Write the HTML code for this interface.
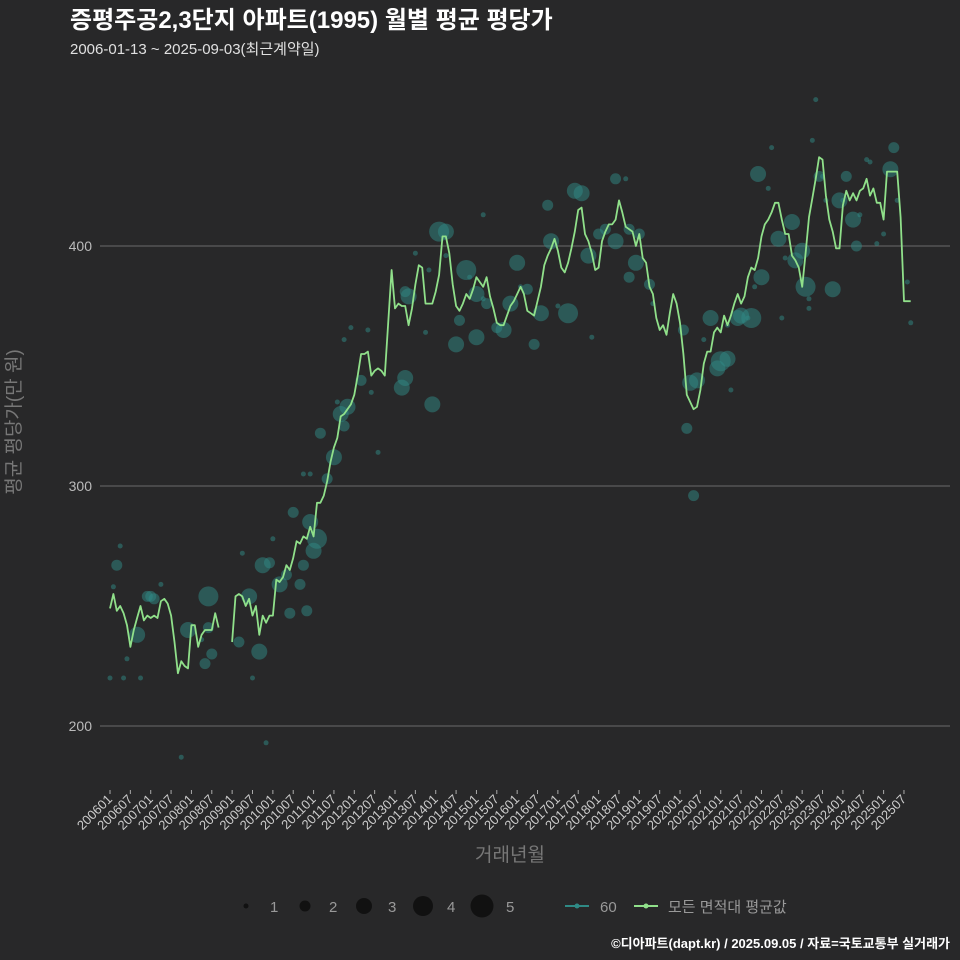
<!DOCTYPE html>
<html><head><meta charset="utf-8"><style>
body{margin:0;background:#282829;}
svg{display:block;font-family:"Liberation Sans","Noto Sans CJK KR",sans-serif;}
</style></head><body>
<svg id="chart" width="960" height="960" viewBox="0 0 960 960" xmlns="http://www.w3.org/2000/svg">
<rect width="960" height="960" fill="#282829"/>
<text x="70" y="28" fill="#ffffff" font-size="24" font-weight="bold">증평주공2,3단지 아파트(1995) 월별 평균 평당가</text>
<text x="70" y="54" fill="#e0e0e0" font-size="15">2006-01-13 ~ 2025-09-03(최근계약일)</text>
<g id="grid"></g>
<g id="bubbles"></g>
<g id="line"></g>
<g id="xaxis"></g>
<g id="yaxis"></g>
<text transform="translate(20,422) rotate(-90)" text-anchor="middle" fill="#777" font-size="19">평균 평당가(만 원)</text>
<text x="510" y="861" text-anchor="middle" fill="#777" font-size="19">거래년월</text>
<g>
<circle cx="246" cy="906" r="2.5" fill="#111"/>
<text x="270" y="912" fill="#999" font-size="15">1</text>
<circle cx="305" cy="906" r="5.5" fill="#111"/>
<text x="329" y="912" fill="#999" font-size="15">2</text>
<circle cx="364" cy="906" r="8" fill="#111"/>
<text x="388" y="912" fill="#999" font-size="15">3</text>
<circle cx="423" cy="906" r="10" fill="#111"/>
<text x="447" y="912" fill="#999" font-size="15">4</text>
<circle cx="482" cy="906" r="11.5" fill="#111"/>
<text x="506" y="912" fill="#999" font-size="15">5</text>
<line x1="565" y1="906" x2="589" y2="906" stroke="#2f8a85" stroke-width="2"/>
<circle cx="577" cy="906" r="2.5" fill="#2f8a85"/>
<text x="600" y="912" fill="#999" font-size="15">60</text>
<line x1="634" y1="906" x2="658" y2="906" stroke="#90e08a" stroke-width="2"/>
<circle cx="646" cy="906" r="2.5" fill="#90e08a"/>
<text x="668" y="912" fill="#999" font-size="15">모든 면적대 평균값</text>
</g>
<text x="950" y="948" text-anchor="end" fill="#ffffff" font-size="13" font-weight="bold">©디아파트(dapt.kr) / 2025.09.05 / 자료=국토교통부 실거래가</text>
</svg>
<script>
const yTicks=[200,300,400];
const xTickLabels=["200601","200607","200701","200707","200801","200807","200901","200907","201001","201007","201101","201107","201201","201207","201301","201307","201401","201407","201501","201507","201601","201607","201701","201707","201801","201807","201901","201907","202001","202007","202101","202107","202201","202207","202301","202307","202401","202407","202501","202507"];
// monthly average, index 0 = 2006-01
const avgValues=[249,255,248,250,247,242,233,240,245,250,244,246,245,246,245,252,253,251,246,235,222,227,225,224,242,242,233,238,240,240,240,247,241,null,null,null,
235,254,255,254,250,253,246,250,238,246,243,246,246,261,260,262,267,265,270,277,276,279,278,283,279,293,293,296,302,310,316,320,329,330,332,334,338,346,355,355,356,346,348,349,348,346,368,390,374,376,375,375,367,374,384,392,391,376,376,376,381,388,404,404,397,384,375,373,376,380,378,382,387,385,383,387,379,374,368,367,367,371,375,377,380,383,380,373,372,371,377,383,392,396,399,403,398,391,389,393,399,406,415,416,405,402,397,390,391,402,406,409,409,411,419,414,408,407,406,400,405,395,393,383,380,370,365,367,363,372,380,376,368,355,338,335,332,333,340,351,356,356,364,366,364,371,367,371,376,380,376,379,387,391,390,395,404,409,411,414,418,418,411,405,405,396,394,391,383,397,412,420,428,437,436,421,411,406,399,399,417,423,419,422,419,423,424,428,421,424,418,418,411,431,431,431,431,412,377,377,377];
const dealMonths=[
0,1,2,3,4,5,8,11,12,13,
15,9,21,23,29,28,29,30,27,38,
39,41,42,44,46,45,47,48,50,52,
53,54,56,57,58,57,59,60,59,61,
62,64,66,68,70,69,67,69,71,74,
76,79,77,86,87,87,88,90,93,94,
95,97,99,99,102,103,105,106,108,110,
108,110,111,114,116,118,120,121,123,125,
127,129,130,132,135,137,139,141,142,144,
146,149,149,153,152,156,153,155,159,160,
169,170,171,172,173,175,177,179,180,182,
182,183,185,186,188,189,190,192,191,194,
195,197,198,199,201,202,204,206,205,206,
207,208,209,210,211,213,215,216,217,219,
220,221,223,224,226,228,230,231,232,235,
236];
const dealValues=[
220,258,267,275,220,228,238,254,254,253,
259,220,187,240,254,226,241,230,236,235,
272,254,220,231,193,267,268,278,259,263,
247,289,259,267,248,305,305,273,285,278,
322,303,312,330,333,325,335,361,366,344,
365,314,339,341,381,345,379,397,364,390,
334,406,406,396,359,369,390,387,362,378,
380,413,376,366,365,376,393,383,382,359,
372,417,402,375,372,423,422,396,362,405,
407,402,428,407,428,405,387,393,384,376,
365,324,343,296,344,361,370,349,352,353,
367,340,370,371,370,370,383,387,430,424,
441,403,370,395,410,394,398,378,383,374,
444,461,429,429,419,382,419,419,429,411,
400,413,436,435,401,405,432,441,419,385,
368];
const dealCounts=[
1,1,2,1,1,1,3,2,2,2,
1,1,1,3,4,2,2,2,1,2,
1,3,1,3,1,3,2,1,3,2,
2,2,2,2,2,1,1,3,3,4,
2,2,3,3,3,2,1,1,1,2,
1,1,1,3,2,3,3,1,1,1,
3,4,3,1,3,2,4,1,3,1,
3,1,2,2,3,3,3,1,2,2,
3,2,3,1,4,3,3,3,1,2,
2,3,2,2,1,2,2,3,2,1,
2,2,3,2,3,1,3,3,4,3,
1,1,3,3,1,4,1,3,3,1,
1,3,1,1,3,3,3,1,4,1,
1,1,2,1,1,3,3,1,2,3,
2,1,1,1,1,1,3,2,1,1,
1];

const NS="http://www.w3.org/2000/svg";
const X0=110, PXM=3.393;
function xScale(m){return X0+PXM*m;}
function yScale(v){return 726-2.4*(v-200);}
function rScale(c){return [0,2.5,5.5,8,10,11.5][c]||2.5;}
function mk(tag,attrs,parent){const e=document.createElementNS(NS,tag);for(const k in attrs)e.setAttribute(k,attrs[k]);parent.appendChild(e);return e;}

const grid=document.getElementById('grid'), yaxis=document.getElementById('yaxis');
yTicks.forEach(t=>{
  const l=mk('line',{x1:100,x2:950,y1:yScale(t),y2:yScale(t),stroke:'#6a6a6a','stroke-width':1},grid);
  
  
  const tx=mk('text',{x:92,y:yScale(t)+5,'text-anchor':'end',fill:'#bbb','font-size':14},yaxis);
  tx.textContent=t;
  
  
});
const xaxis=document.getElementById('xaxis');
xTickLabels.forEach((lab,i)=>{
  const x=xScale(i*6);
  const tk=mk('line',{x1:x,x2:x,y1:790,y2:794,stroke:'#aaa','stroke-width':1},xaxis);
  
  
  const tx=mk('text',{transform:`translate(${x+3},800) rotate(-45)`,'text-anchor':'end',fill:'#ccc','font-size':13},xaxis);
  tx.textContent=lab;
  
  
});
const bub=document.getElementById('bubbles');
const nB=Math.min(dealMonths.length,dealValues.length,dealCounts.length);
for(let i=0;i<nB;i++){
  const c=mk('circle',{cx:xScale(dealMonths[i]),cy:yScale(dealValues[i]),r:rScale(dealCounts[i]),fill:'#2f8a85','fill-opacity':0.5},bub);
  
  
}
const lg=document.getElementById('line');
let d='',pen=false;
avgValues.forEach((v,m)=>{
  if(v===null){pen=false;return;}
  d+=(pen?'L':'M')+xScale(m).toFixed(1)+','+yScale(v).toFixed(1);
  pen=true;
});
const p=mk('path',{d:d,fill:'none',stroke:'#90e08a','stroke-width':1.8,'stroke-linejoin':'round'},lg);


</script>
</body></html>
